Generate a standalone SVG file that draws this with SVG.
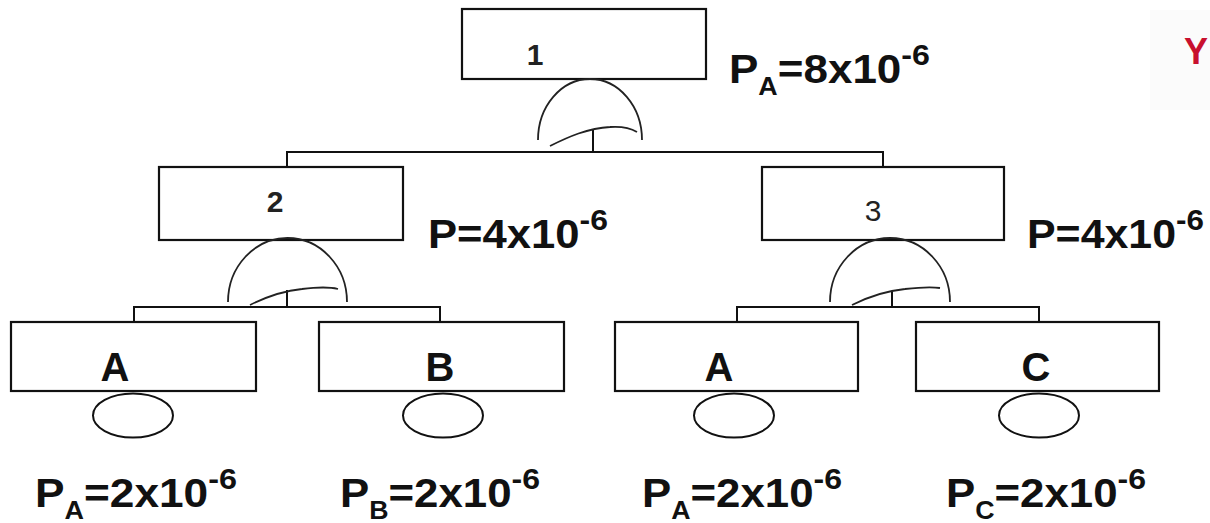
<svg xmlns="http://www.w3.org/2000/svg" width="1210" height="523" viewBox="0 0 1210 523">
<style>
.box{fill:#fff;stroke:#111;stroke-width:2.2}
.ln{fill:none;stroke:#111;stroke-width:2}
.gate{fill:none;stroke:#222;stroke-width:1.8}
.ev{fill:#fff;stroke:#111;stroke-width:2}
.lbl{font-family:"Liberation Sans",Arial,sans-serif;font-weight:bold;fill:#111}
.num{font-family:"Liberation Sans",Arial,sans-serif;font-size:30px;fill:#222;text-anchor:middle}
.big{font-size:40px;text-anchor:middle}
.p{font-size:41px}
.sub{font-size:25px}
.sup{font-size:30px}
</style>
<rect width="1210" height="523" fill="#fff"/>
<g id="connectors">
<path class="ln" d="M287 167V152H883V167M593 129V152"/>
<path class="ln" d="M134 322V307H440V322M287 290V307"/>
<path class="ln" d="M737 322V307H1039V322M892 291V307"/>
</g>
<g id="node1">
<rect class="box" x="462" y="9" width="244" height="70"/>
<text class="num" x="535" y="65" font-weight="bold">1</text>
<text class="lbl p" x="729" y="83" textLength="201" lengthAdjust="spacingAndGlyphs">P<tspan class="sub" dy="12">A</tspan><tspan dy="-12">=8x10</tspan><tspan class="sup" dy="-18">-6</tspan></text>
</g>
<g id="gate1">
<path class="gate" d="M538 140A52 61 0 0 1 642 140"/>
<path class="gate" d="M550 146C568 137 588 128 610 127C624 126 632 129 637 132"/>
</g>
<g id="node2">
<rect class="box" x="159" y="167" width="244" height="73"/>
<text class="num" x="275" y="212" font-weight="bold">2</text>
<text class="lbl p" x="428" y="248" textLength="180" lengthAdjust="spacingAndGlyphs">P=4x10<tspan class="sup" dy="-18">-6</tspan></text>
</g>
<g id="gate2">
<path class="gate" d="M228 302A59.5 64 0 0 1 347 302"/>
<path class="gate" d="M250 305C264 298 282 291 302 289C318 287 330 287 338 289"/>
</g>
<g id="node3">
<rect class="box" x="762" y="167" width="242" height="73"/>
<text class="num" x="873" y="221">3</text>
<text class="lbl p" x="1027" y="248" textLength="177" lengthAdjust="spacingAndGlyphs">P=4x10<tspan class="sup" dy="-18">-6</tspan></text>
</g>
<g id="gate3">
<path class="gate" d="M830 302A60 64 0 0 1 950 302"/>
<path class="gate" d="M852 305C866 298 884 291 905 289C922 287 934 287 940 288"/>
</g>
<g id="nodeA1">
<rect class="box" x="11" y="322" width="245" height="69"/>
<text class="lbl big" x="115" y="381">A</text>
<ellipse class="ev" cx="133" cy="415.5" rx="40" ry="22"/>
<text class="lbl p" x="35" y="507" textLength="202" lengthAdjust="spacingAndGlyphs">P<tspan class="sub" dy="12">A</tspan><tspan dy="-12">=2x10</tspan><tspan class="sup" dy="-18">-6</tspan></text>
</g>
<g id="nodeB">
<rect class="box" x="319" y="322" width="245" height="69"/>
<text class="lbl big" x="440" y="381">B</text>
<ellipse class="ev" cx="443" cy="415.5" rx="40" ry="22"/>
<text class="lbl p" x="340" y="507" textLength="200" lengthAdjust="spacingAndGlyphs">P<tspan class="sub" dy="12">B</tspan><tspan dy="-12">=2x10</tspan><tspan class="sup" dy="-18">-6</tspan></text>
</g>
<g id="nodeA2">
<rect class="box" x="615" y="322" width="243" height="69"/>
<text class="lbl big" x="719" y="381">A</text>
<ellipse class="ev" cx="734" cy="415.5" rx="40" ry="22"/>
<text class="lbl p" x="642" y="507" textLength="200" lengthAdjust="spacingAndGlyphs">P<tspan class="sub" dy="12">A</tspan><tspan dy="-12">=2x10</tspan><tspan class="sup" dy="-18">-6</tspan></text>
</g>
<g id="nodeC">
<rect class="box" x="916" y="322" width="243" height="69"/>
<text class="lbl big" x="1036" y="381">C</text>
<ellipse class="ev" cx="1039" cy="415.5" rx="40" ry="22"/>
<text class="lbl p" x="946" y="507" textLength="200" lengthAdjust="spacingAndGlyphs">P<tspan class="sub" dy="12">C</tspan><tspan dy="-12">=2x10</tspan><tspan class="sup" dy="-18">-6</tspan></text>
</g>
<rect x="1150" y="10" width="60" height="100" fill="#fbfbfb"/>
<text x="1184" y="64" font-family="Liberation Sans,Arial,sans-serif" font-weight="bold" font-size="36" fill="#c8102e">Y</text>
</svg>
